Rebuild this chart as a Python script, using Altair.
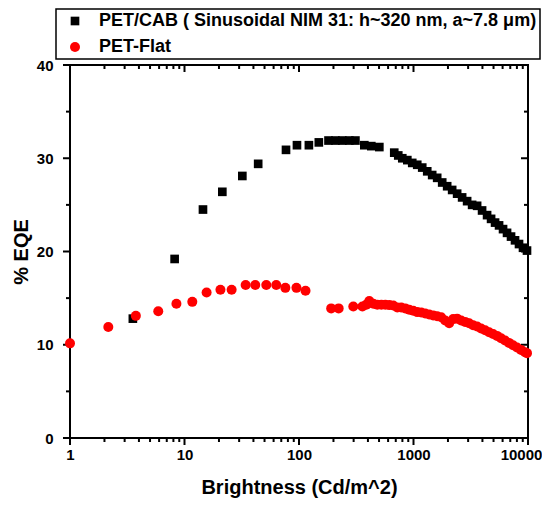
import altair as alt
import pandas as pd

# ---- data ----
cab_x = [3.54, 8.2, 14.5, 21.4, 32, 44, 77, 96, 122, 149,
         181, 208, 239, 275, 311, 372, 428, 503,
         679, 736, 798, 883, 975, 1078, 1192, 1318, 1456, 1610,
         1781, 1968, 2176, 2405, 2659, 2940, 3251, 3594, 3972, 4392,
         4760, 5157, 5588, 6055, 6561, 7109, 7704, 8347, 9045, 9800]
cab_y = [12.8, 19.2, 24.5, 26.4, 28.1, 29.4, 30.9, 31.4, 31.4, 31.7,
         31.9, 31.9, 31.9, 31.9, 31.9, 31.4, 31.3, 31.2,
         30.6, 30.3, 30.0, 29.8, 29.5, 29.3, 29.0, 28.6, 28.2, 27.9,
         27.4, 27.0, 26.6, 26.2, 25.8, 25.4, 25.0, 24.9, 24.4, 23.9,
         23.5, 23.1, 22.8, 22.4, 22.0, 21.6, 21.2, 20.8, 20.4, 20.1]

flat_x = [1, 2.16, 3.76, 5.9, 8.5, 11.7, 15.6, 20.6, 25.8, 34.2,
          41.5, 51.8, 63.3, 76, 95, 114, 191, 222, 298, 358,
          387, 411, 446, 483, 524, 567, 615, 666, 722, 782,
          848, 918, 995, 1078, 1169, 1266, 1372, 1487, 1610, 1745,
          1891, 2049, 2220, 2405, 2606, 2824, 3060, 3316, 3594, 3894,
          4219, 4572, 4954, 5368, 5817, 6303, 6830, 7401, 8020, 8690,
          9416, 9800]
flat_y = [10.15, 11.9, 13.1, 13.6, 14.4, 14.6, 15.6, 15.9, 15.9, 16.4,
          16.4, 16.4, 16.4, 16.1, 16.1, 15.8, 13.9, 13.9, 14.1, 14.1,
          14.3, 14.7, 14.4, 14.3, 14.3, 14.3, 14.25, 14.2, 14.0, 14.0,
          13.9, 13.75, 13.65, 13.5, 13.45, 13.35, 13.25, 13.15, 13.05, 12.95,
          12.6, 12.3, 12.75, 12.8, 12.6, 12.45, 12.3, 12.1, 11.95, 11.75,
          11.55, 11.35, 11.15, 10.95, 10.7, 10.45, 10.2, 9.95, 9.7, 9.45,
          9.2, 9.1]

series_names = ["PET/CAB ( Sinusoidal NIM 31: h~320 nm, a~7.8 \u03bcm)",
                "\u00a0PET-Flat"]

major_x = [1, 10, 100, 1000, 10000]
minor_x = [2, 3, 4, 5, 6, 7, 8, 9,
           20, 30, 40, 50, 60, 70, 80, 90,
           200, 300, 400, 500, 600, 700, 800, 900,
           2000, 3000, 4000, 5000, 6000, 7000, 8000, 9000]
major_y = [0, 10, 20, 30, 40]
minor_y = [5, 15, 25, 35]

df = pd.DataFrame({
    "series": [series_names[0]] * len(cab_x) + [series_names[1]] * len(flat_x),
    "x": cab_x + flat_x,
    "y": cab_y + flat_y,
})

W, H = 458, 373
MAJ, MIN = 7, 4
FONT = "Liberation Sans"
xscale = alt.Scale(type="log", domain=[1, 10000], nice=False)
yscale = alt.Scale(domain=[0, 40], nice=False, zero=True)

legend = alt.Legend(
    title=None, orient="none", legendX=-14, legendY=-56,
    labelFont=FONT, labelFontSize=18, labelFontWeight="bold", labelColor="black",
    labelLimit=700, symbolSize=100, symbolOffset=7, labelOffset=15,
    padding=3, rowPadding=8, strokeColor="black", symbolStrokeWidth=0,
)

xaxis = alt.Axis(
    values=major_x, orient="bottom", format="d", title="Brightness (Cd/m^2)",
    ticks=False, labelPadding=9, titlePadding=15, domain=False,
    labelFlush=False, labelOverlap=False,
    labelOffset={"condition": {"test": "datum.value >= 10000", "value": -7}, "value": 0})
yaxis = alt.Axis(
    values=major_y, orient="left", format="d", title="% EQE",
    ticks=False, labelPadding=17, titlePadding=5, domain=False)

points = alt.Chart(df).mark_point(filled=True, opacity=1).encode(
    x=alt.X("x:Q", scale=xscale, axis=xaxis),
    y=alt.Y("y:Q", scale=yscale, axis=yaxis),
    color=alt.Color("series:N", scale=alt.Scale(domain=series_names, range=["#000000", "#ff0000"]), legend=legend),
    shape=alt.Shape("series:N", scale=alt.Scale(domain=series_names, range=["square", "circle"]), legend=legend),
    size=alt.Size("series:N", scale=alt.Scale(domain=series_names, range=[75, 100]), legend=None),
)


def xticks(vals, y0, y1):
    return alt.Chart(pd.DataFrame({"x": vals})).mark_rule(color="black", strokeWidth=2).encode(
        x=alt.X("x:Q", scale=xscale, axis=xaxis),
        y=alt.value(y0), y2=alt.value(y1),
    )


def yticks(vals, x0, x1):
    return alt.Chart(pd.DataFrame({"y": vals})).mark_rule(color="black", strokeWidth=2).encode(
        y=alt.Y("y:Q", scale=yscale, axis=yaxis),
        x=alt.value(x0), x2=alt.value(x1),
    )


ticks = [
    xticks(major_x, H, H + MAJ), xticks(minor_x, H, H + MIN),   # bottom, outward
    xticks(major_x, 0, MAJ), xticks(minor_x, 0, MIN),           # top, inward
    yticks(major_y, 0, -MAJ), yticks(minor_y, 0, -MIN),         # left, outward
    yticks(major_y, W, W - MAJ), yticks(minor_y, W, W - MIN),   # right, inward
]

chart = alt.layer(*ticks, points).properties(
    width=W, height=H,
    autosize=alt.AutoSizeParams(type="none"),
    padding={"left": 62, "top": 57, "right": 14, "bottom": 64},
).configure_view(
    stroke="black", strokeWidth=2
).configure_axis(
    grid=False,
    labelFont=FONT, labelFontSize=15, labelFontWeight="bold", labelColor="black",
    titleFont=FONT, titleFontSize=20, titleFontWeight="bold", titleColor="black",
).configure_legend(
    strokeWidth=1.5
)

chart.save("out.html", embed_options={"renderer": "svg", "actions": False})
